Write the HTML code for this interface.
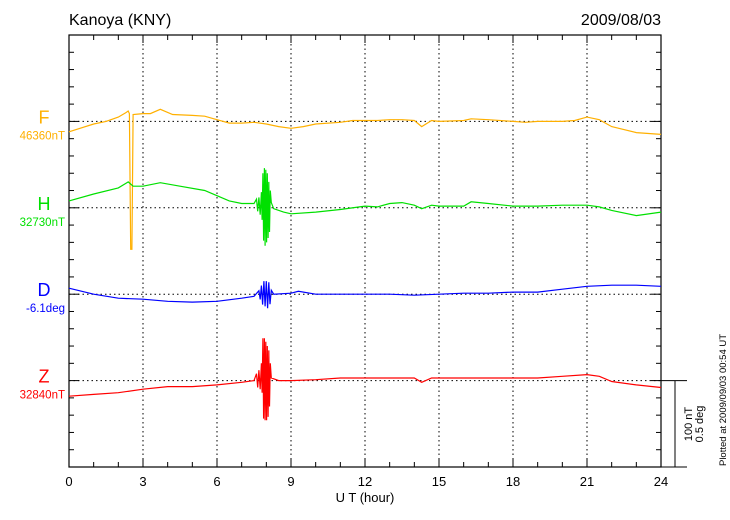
<!DOCTYPE html>
<html><head><meta charset="utf-8"><style>
html,body{margin:0;padding:0;background:#fff;}
svg{display:block;font-family:"Liberation Sans",sans-serif;}
</style></head><body>
<svg id="chart" width="730" height="520" xmlns="http://www.w3.org/2000/svg">
<text x="69" y="25" font-size="16">Kanoya (KNY)</text>
<text x="661" y="25" font-size="16" text-anchor="end">2009/08/03</text>
<g id="grid"></g>
<g id="axes"></g>
<g id="series"></g>
<g id="labels"></g>
<text x="365" y="502" font-size="13" text-anchor="middle">U T (hour)</text>
<text transform="translate(726,400) rotate(-90)" font-size="9.5" text-anchor="middle">Plotted at 2009/09/03 00:54 UT</text>
<text transform="translate(692,424) rotate(-90)" font-size="11" text-anchor="middle">100 nT</text>
<text transform="translate(703,424) rotate(-90)" font-size="11" text-anchor="middle">0.5 deg</text>
</svg>
<script>
const xTicks = [0,3,6,9,12,15,18,21,24];
const fHours = [0,1,1.5,2,2.3,2.4,2.45,2.5,2.55,2.6,3,3.3,3.7,4.2,5,5.5,6,6.5,7,7.5,8,8.5,9,9.5,10,11,11.5,12,12.5,13,13.5,14,14.3,14.7,15,16,16.3,17,18,18.5,19,20,20.5,21,21.5,22,23,24];
const fValues = [-12,-3,0,5,10,12,9,-148,-148,8,9,9,14,8,7,6,2,-2,-2,-1,-3,-6,-8,-6,-3,-1,1,1,1,2,2,1,-6,1,0,1,3,2,0,-1,0,0,1,5,2,-6,-13,-15];
const hHours = [0,1,2,2.4,2.6,3,3.7,4.5,5.5,6,6.5,7,7.5,7.6,7.65,7.7,7.75,7.8,7.83,7.86,7.89,7.92,7.95,7.98,8.01,8.04,8.07,8.1,8.13,8.16,8.2,8.3,8.7,9,10,11,12,12.5,13,13.5,14,14.3,14.7,15,16,16.3,17,18,19,20,21,21.5,22,23,24];
const hValues = [8,16,23,30,25,25,29,25,20,14,8,5,5,10,-4,12,-8,18,-14,40,-38,46,-44,44,-40,40,-35,30,-28,20,6,-1,-5,-7,-5,-2,2,1,5,6,3,-1,3,2,2,7,5,2,2,3,3,1,-3,-9,-5];
const dHours = [0,1,2,3,4,5,6,7,7.5,7.7,7.75,7.8,7.85,7.9,7.95,8.0,8.05,8.1,8.15,8.2,8.3,9,9.3,10,11,12,13,14,15,16,17,18,19,20,21,22,23,24];
const dValues = [0.035,0,-0.023,-0.029,-0.041,-0.046,-0.041,-0.023,-0.012,0.02,-0.03,0.05,-0.06,0.075,-0.07,0.075,-0.081,0.069,-0.058,0.023,0,0.006,0.017,0,0,0,0,-0.006,0,0.006,0.006,0.012,0.012,0.029,0.046,0.052,0.052,0.046];
const zHours = [0,1,2,3,4,5,6,7,7.5,7.6,7.65,7.7,7.75,7.8,7.83,7.86,7.89,7.92,7.95,7.98,8.01,8.04,8.07,8.1,8.13,8.16,8.2,8.5,9,10,11,12,13,14,14.3,14.7,15,16,17,18,19,20,21,21.5,22,23,24];
const zValues = [-18,-16,-14,-10,-7,-7,-5,-2,0,8,-8,12,-10,20,-14,49,-44,49,-46,45,-46,40,-42,35,-30,20,3,0,0,1,3,3,3,3,-2,3,3,3,3,3,3,5,7,5,-1,-5,-8];
const componentNames = ["F","H","D","Z"];
const baseLabels = ["46360nT","32730nT","-6.1deg","32840nT"];

const NS="http://www.w3.org/2000/svg";
const L=69,R=661,T=35,B=467;
const X=h=>L+(R-L)*h/24;
const STEP=(B-T)/25;
const bases=[T+5*STEP,T+10*STEP,T+15*STEP,T+20*STEP];
const pxPerNT=5*STEP/100, pxPerDeg=5*STEP/0.5;
function mk(tag,attrs,parent){const e=document.createElementNS(NS,tag);for(const k in attrs)e.setAttribute(k,attrs[k]);parent.appendChild(e);return e;}
const grid=document.getElementById('grid'),axes=document.getElementById('axes'),series=document.getElementById('series'),labels=document.getElementById('labels');
xTicks.forEach(h=>{if(h>0&&h<24){const l=mk('line',{x1:X(h),x2:X(h),y1:T,y2:B,stroke:'#000','stroke-width':1,'stroke-dasharray':'1.5,3'},grid);}});
bases.forEach(y=>{const l=mk('line',{x1:L,x2:R,y1:y,y2:y,stroke:'#000','stroke-width':1,'stroke-dasharray':'1.5,3'},grid);});
const fr=mk('rect',{x:L,y:T,width:R-L,height:B-T,fill:'none',stroke:'#000','stroke-width':1.2},axes);

for(let h=1;h<24;h++){const len=(h%3==0)?8:5;mk('line',{x1:X(h),x2:X(h),y1:T,y2:T+len,stroke:'#000'},axes);mk('line',{x1:X(h),x2:X(h),y1:B,y2:B-len,stroke:'#000'},axes);}
for(let i=1;i<25;i++){const y=T+i*STEP;const len=(i%5==0)?10:5;mk('line',{x1:L,x2:L+len,y1:y,y2:y,stroke:'#000'},axes);mk('line',{x1:R,x2:R-len,y1:y,y2:y,stroke:'#000'},axes);}
xTicks.forEach(h=>{const t=mk('text',{x:X(h),y:486,'font-size':13,'text-anchor':'middle'},axes);t.textContent=h;});
mk('line',{x1:R,x2:687,y1:bases[3],y2:bases[3],stroke:'#000'},axes);
const sb=mk('line',{x1:675,x2:675,y1:bases[3],y2:bases[3]+100*pxPerNT,stroke:'#000'},axes);

mk('line',{x1:R,x2:687,y1:B,y2:B,stroke:'#000'},axes);
const colors=['#ffb000','#00e000','#0000ff','#ff0000'];
const sets=[[fHours,fValues,pxPerNT],[hHours,hValues,pxPerNT],[dHours,dValues,pxPerDeg],[zHours,zValues,pxPerNT]];
sets.forEach((s,i)=>{const pts=s[0].map((h,j)=>X(h).toFixed(1)+','+(bases[i]-s[1][j]*s[2]).toFixed(1)).join(' ');
const p=mk('polyline',{points:pts,fill:'none',stroke:colors[i],'stroke-width':1.2},series);

const a=mk('text',{x:44,y:bases[i]+2,'font-size':18,'text-anchor':'middle',fill:colors[i]},labels);a.textContent=componentNames[i];

const b=mk('text',{x:65,y:bases[i]+18,'font-size':11.5,'text-anchor':'end',fill:colors[i]},labels);b.textContent=baseLabels[i];
});
</script>
</body></html>
